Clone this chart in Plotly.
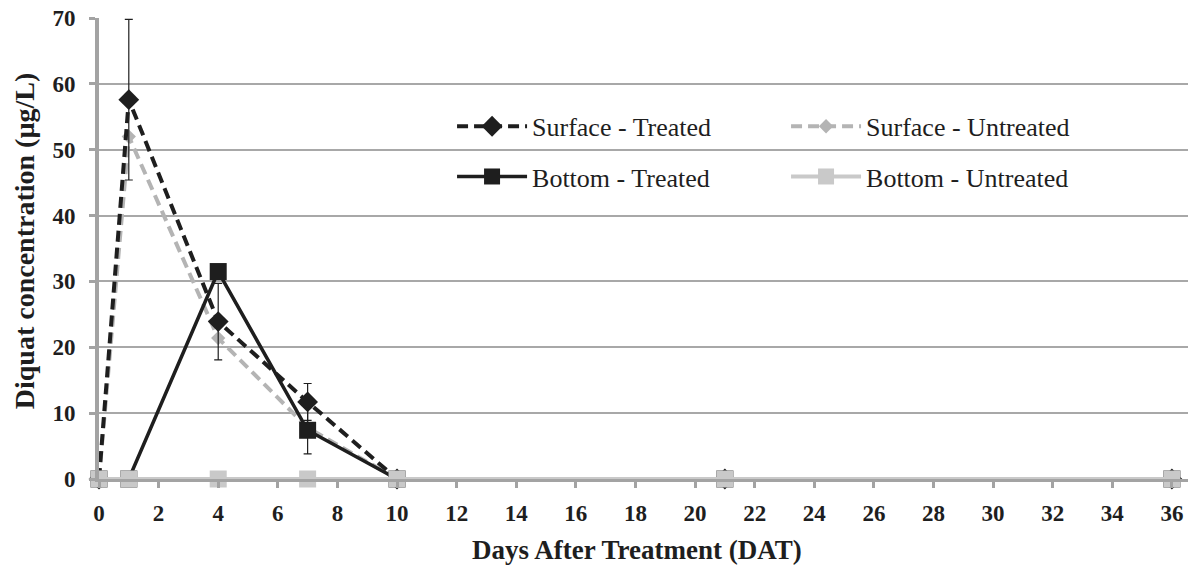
import plotly.graph_objects as go

days = [0, 1, 4, 7, 10, 21, 36]
surface_treated = [0, 57.6, 23.9, 11.7, 0, 0, 0]
surface_treated_err = [0, 12.2, 5.8, 2.8, 0, 0, 0]
surface_untreated = [0, 52.0, 21.4, 7.8, 0, 0, 0]
bottom_treated = [0, 0, 31.5, 7.4, 0, 0, 0]
bottom_treated_err = [0, 0, 0, 3.6, 0, 0, 0]
bottom_untreated = [0, 0, 0, 0, 0, 0, 0]

x_ticks = list(range(0, 37, 2))
y_ticks = list(range(0, 71, 10))

BLACK = "#1e1e1e"
GREY_DASH = "#b4b4b4"
GREY_LIGHT = "#c9c9c9"
AXIS_GREY = "#a3a3a3"
FONT = "Liberation Serif, Times New Roman, serif"

fig = go.Figure()

fig.add_trace(go.Scatter(
    x=days, y=surface_untreated, name="Surface - Untreated", mode="lines+markers",
    line=dict(color=GREY_DASH, width=4, dash="11px,6px"),
    marker=dict(symbol="diamond", size=11, color=GREY_DASH),
    legend="legend2", cliponaxis=False,
))
fig.add_trace(go.Scatter(
    x=days, y=surface_treated, name="Surface - Treated", mode="lines+markers",
    line=dict(color=BLACK, width=4, dash="11px,6px"),
    marker=dict(symbol="diamond", size=16, color=BLACK),
    error_y=dict(type="data", array=surface_treated_err, visible=True,
                 color=BLACK, thickness=1.2, width=4),
    legend="legend", cliponaxis=False,
))
fig.add_trace(go.Scatter(
    x=days, y=bottom_treated, name="Bottom - Treated", mode="lines+markers",
    line=dict(color=BLACK, width=3.5),
    marker=dict(symbol="square", size=17, color=BLACK),
    error_y=dict(type="data", array=bottom_treated_err, visible=True,
                 color=BLACK, thickness=1.2, width=4),
    legend="legend3", cliponaxis=False,
))
fig.add_trace(go.Scatter(
    x=days, y=bottom_untreated, name="Bottom - Untreated", mode="lines+markers",
    line=dict(color=GREY_LIGHT, width=4),
    marker=dict(symbol="square", size=17, color=GREY_LIGHT),
    legend="legend4", cliponaxis=False,
))

# white box behind the legend (hides gridlines)
fig.add_shape(type="rect", xref="paper", yref="paper",
              x0=0.304, x1=0.924, y0=0.585, y1=0.82,
              fillcolor="white", line=dict(width=0), layer="between")

legend_common = dict(
    orientation="v", xanchor="left", yanchor="middle",
    bgcolor="rgba(0,0,0,0)", borderwidth=0,
    font=dict(family=FONT, size=26, color=BLACK),
    itemwidth=70, visible=True,
)
col1, col2 = 0.3242, 0.6309
row1, row2 = 0.765, 0.656

fig.update_layout(
    width=1191, height=565,
    margin=dict(l=99, r=3, t=18, b=86),
    paper_bgcolor="white", plot_bgcolor="white",
    font=dict(family=FONT, color=BLACK),
    showlegend=True,
    legend=dict(x=col1, y=row1, **legend_common),
    legend2=dict(x=col2, y=row1, **legend_common),
    legend3=dict(x=col1, y=row2, **legend_common),
    legend4=dict(x=col2, y=row2, **legend_common),
    xaxis=dict(
        range=[0, 36.54], tickmode="array", tickvals=x_ticks,
        ticktext=[str(v) for v in x_ticks],
        tickfont=dict(family=FONT, size=23, color=BLACK, weight="bold"),
        showgrid=False, zeroline=False,
        showline=True, linecolor=AXIS_GREY, linewidth=3,
        ticks="outside", ticklen=6, tickwidth=3, tickcolor=AXIS_GREY,
        ticklabelstandoff=5,
    ),
    yaxis=dict(
        range=[0, 70], tickmode="array", tickvals=y_ticks,
        ticktext=[str(v) for v in y_ticks],
        tickfont=dict(family=FONT, size=23, color=BLACK, weight="bold"),
        showgrid=True, gridcolor="#a8a8a8", gridwidth=1.5,
        zeroline=False,
        showline=True, linecolor=AXIS_GREY, linewidth=4,
        ticks="outside", ticklen=6, tickwidth=3, tickcolor=AXIS_GREY,
        ticklabelstandoff=9,
    ),
)

fig.add_annotation(
    text="Days After Treatment (DAT)", xref="paper", yref="paper",
    x=(637 - 99) / 1089, y=-0.155, xanchor="center", yanchor="middle",
    showarrow=False,
    font=dict(family=FONT, size=27, color=BLACK, weight="bold"),
)
fig.add_annotation(
    text="Diquat concentration (µg/L)", xref="paper", yref="paper",
    x=-0.0688, y=0.516, xanchor="center", yanchor="middle", showarrow=False,
    textangle=-90,
    font=dict(family=FONT, size=28, color=BLACK, weight="bold"),
)

fig.write_html("out.html", config={"displayModeBar": False},
               post_script="document.body.style.margin='0';")
